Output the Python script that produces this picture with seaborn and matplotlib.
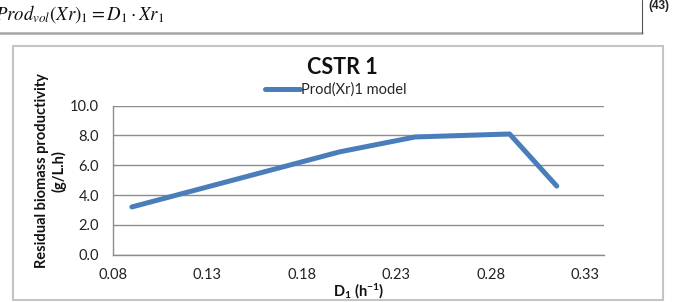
import matplotlib
matplotlib.use("Agg")
import matplotlib.pyplot as plt
from matplotlib.lines import Line2D
from matplotlib.patches import Rectangle
import seaborn as sns

# data
d1 = [0.09, 0.20, 0.24, 0.29, 0.315]
prod_xr1 = [3.2, 6.9, 7.9, 8.1, 4.6]
x_ticks = [0.08, 0.13, 0.18, 0.23, 0.28, 0.33]
y_ticks = [0.0, 2.0, 4.0, 6.0, 8.0, 10.0]

sns.set_theme(style="white")
plt.rcParams["font.family"] = ["Lato", "DejaVu Sans"]
plt.rcParams["mathtext.fontset"] = "custom"
plt.rcParams["mathtext.rm"] = "Lato"
plt.rcParams["mathtext.it"] = "Lato:italic"
plt.rcParams["mathtext.bf"] = "Lato:bold"

W, H = 675, 302
fig = plt.figure(figsize=(W / 100, H / 100), dpi=100, facecolor="white")

# axes box in pixels: left 113, right 604, top 105.7, bottom 254.6
ax = fig.add_axes([113 / W, 1 - 254.6 / H, (604 - 113) / W, (254.6 - 105.7) / H])

sns.lineplot(x=d1, y=prod_xr1, ax=ax, color="#4a7ebb", linewidth=3.6,
             label="Prod(Xr)1 model", solid_capstyle="round", solid_joinstyle="round")

grey = "#8c8c8c"
fs = 10.5
ax.set_xlim(0.08, 0.34)
ax.set_ylim(0, 10)
ax.set_xticks(x_ticks)
ax.set_yticks(y_ticks)
ax.set_xticklabels([f"{v:.2f}" for v in x_ticks])
ax.set_yticklabels([f"{v:.1f}" for v in y_ticks])
ax.tick_params(axis="both", direction="out", length=4, width=1, color=grey,
               labelsize=fs, labelcolor="#222222", pad=6)
ax.tick_params(axis="x", pad=6)
ax.yaxis.grid(True, color=grey, linewidth=1)
ax.xaxis.grid(False)
for side in ["top", "right"]:
    ax.spines[side].set_visible(False)
for side in ["left", "bottom"]:
    ax.spines[side].set_color(grey)
    ax.spines[side].set_linewidth(1)
ax.set_facecolor("none")

ax.set_xlabel(r"$\mathbf{D_1}$ (h$^{\mathbf{-1}}$)", fontsize=fs, fontweight="bold",
              va="center", color="#111111")
ax.xaxis.set_label_coords(0.5, (254.6 - 291.5) / 148.9)
ax.set_ylabel("Residual biomass productivity\n(g/L.h)", fontsize=fs, fontweight="bold",
              va="center", ha="center", multialignment="center", color="#111111")
ax.yaxis.set_label_coords((51 - 113) / 491, (254.6 - 171) / 148.9)

ax.legend(loc="center", bbox_to_anchor=(336 / W, 1 - 90 / H), bbox_transform=fig.transFigure,
          frameon=False, fontsize=fs, handlelength=2.4, handletextpad=0.05,
          borderpad=0, borderaxespad=0)

fig.text(342 / W, 1 - 67.5 / H, "CSTR 1", fontsize=15.5, fontweight="bold",
         ha="center", va="center", color="#111111")

# chart frame
fig.add_artist(Rectangle((13 / W, 1 - 300 / H), 650 / W, 254 / H, fill=False,
                         edgecolor="#c4c4c4", linewidth=1.5, transform=fig.transFigure))

# document header above the chart
fig.text(-5 / W, 1 - 19.5 / H, r"$Prod_{vol}(Xr)_1 = D_1 \cdot Xr_1$", fontsize=13.5,
         math_fontfamily="stix", ha="left", va="baseline", color="#111111")
fig.text(659 / W, 1 - 6 / H, "(43)", fontsize=8.5, fontweight="bold", family="Liberation Sans",
         ha="center", va="center", color="#222222")
fig.add_artist(Line2D([0, 642 / W], [1 - 32.5 / H] * 2, color="#a6a6a6", linewidth=1.8,
                      transform=fig.transFigure))
fig.add_artist(Line2D([642 / W] * 2, [1 - 32.5 / H, 1], color="#555555", linewidth=0.8,
                      transform=fig.transFigure))

fig.savefig("out.png", dpi=100, facecolor="white")
